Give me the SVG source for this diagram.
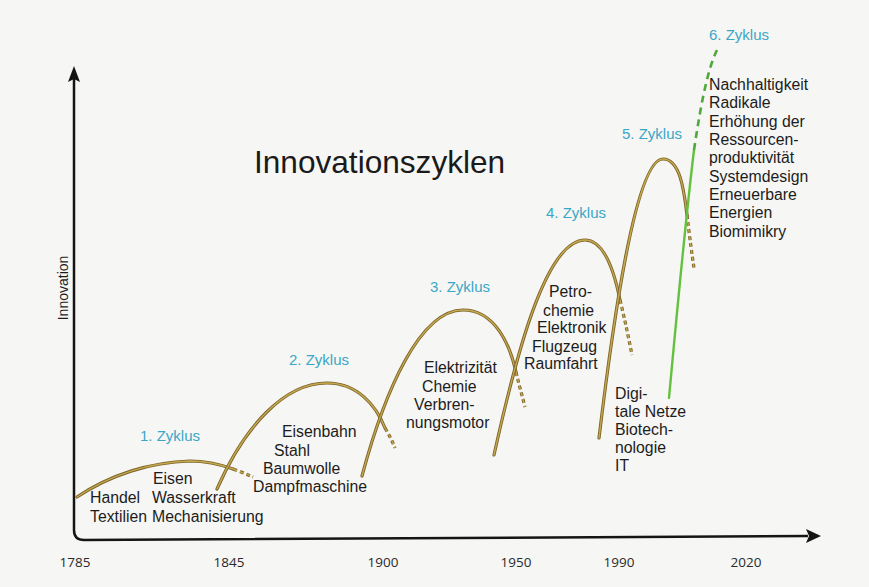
<svg xmlns="http://www.w3.org/2000/svg" width="869" height="587" viewBox="0 0 869 587">
<style>
  .t { font-family: "Liberation Sans", Arial, sans-serif; font-size: 15.8px; fill: #1c1c1c; }
  .lab { font-family: "Liberation Sans", Arial, sans-serif; font-size: 15px; fill: #3aa7c6; }
  .yr { font-family: "Open Sans", "Liberation Sans", sans-serif; font-size: 13.5px; fill: #2a2a2a; text-anchor: middle; }
  .title { font-family: "Liberation Sans", Arial, sans-serif; font-size: 31.6px; fill: #1a1a1a; }
  .axis { fill: none; stroke: #151515; stroke-width: 2.5; }
  .cu { fill: none; stroke: #7d6428; stroke-width: 3.2; stroke-linecap: round; }
  .ci { fill: none; stroke: #c4a851; stroke-width: 1.4; stroke-linecap: round; }
  .cud { fill: none; stroke: #7d6428; stroke-width: 3.2; stroke-dasharray: 4 3; }
  .cid { fill: none; stroke: #c4a851; stroke-width: 1.4; stroke-dasharray: 4 3; }
  .g { fill: none; stroke: #64c03f; stroke-width: 2.4; stroke-linecap: round; }
  .gd { fill: none; stroke: #4ea83a; stroke-width: 2.6; stroke-dasharray: 7 5; }
</style>
<rect x="0" y="0" width="869" height="587" fill="#f6f6f4"/>

<g id="title">
  <text class="title" x="254" y="173">Innovationszyklen</text>
</g>

<g id="axes">
  <path class="axis" d="M74,78 L74,530 Q74,540 84,540 L808,536"/>
  <polygon points="74,66 68,82 74,79 80,82" fill="#151515"/>
  <polygon points="821,536 806,529 809,536 806,543" fill="#151515"/>
  <text class="t" transform="translate(68,288) rotate(-90)" text-anchor="middle" style="font-size:14px">Innovation</text>
  <text class="yr" x="75" y="567">1785</text>
  <text class="yr" x="229" y="567">1845</text>
  <text class="yr" x="383" y="567">1900</text>
  <text class="yr" x="516" y="567">1950</text>
  <text class="yr" x="619" y="567">1990</text>
  <text class="yr" x="746" y="567">2020</text>
</g>

<g id="connectors">
  <!-- cycle 1 -->
  <path class="cu" d="M77,497 C110,475 150,462 190,461 C208,461 222,465 233,469"/>
  <path class="ci" d="M77,497 C110,475 150,462 190,461 C208,461 222,465 233,469"/>
  <path class="cud" d="M233,469 Q244,473 253,477"/>
  <path class="cid" d="M233,469 Q244,473 253,477"/>
  <!-- cycle 2 -->
  <path class="cu" d="M217,489 C245,425 285,383 327,383 C357,383 376,405 385,428"/>
  <path class="ci" d="M217,489 C245,425 285,383 327,383 C357,383 376,405 385,428"/>
  <path class="cud" d="M385,428 Q391,438 395,448"/>
  <path class="cid" d="M385,428 Q391,438 395,448"/>
  <!-- cycle 3 -->
  <path class="cu" d="M362,476 C385,390 420,310 463,310 C495,310 510,345 516,372"/>
  <path class="ci" d="M362,476 C385,390 420,310 463,310 C495,310 510,345 516,372"/>
  <path class="cud" d="M516,372 C519,385 522,395 525,407"/>
  <path class="cid" d="M516,372 C519,385 522,395 525,407"/>
  <!-- cycle 4 -->
  <path class="cu" d="M494,455 C515,360 545,240 585,240 C605,240 615,275 620,300"/>
  <path class="ci" d="M494,455 C515,360 545,240 585,240 C605,240 615,275 620,300"/>
  <path class="cud" d="M620,300 C625,320 629,340 632,355"/>
  <path class="cid" d="M620,300 C625,320 629,340 632,355"/>
  <!-- cycle 5 -->
  <path class="cu" d="M599,438 C612,330 635,159 663,159 C680,159 684,190 687,215"/>
  <path class="ci" d="M599,438 C612,330 635,159 663,159 C680,159 684,190 687,215"/>
  <path class="cud" d="M687,215 C690,240 692,255 694,268"/>
  <path class="cid" d="M687,215 C690,240 692,255 694,268"/>
  <!-- cycle 6 -->
  <path class="g" d="M669,398 C678,300 688,200 694,150"/>
  <path class="gd" d="M694,150 C700,110 707,70 717,50"/>
</g>

<g id="cycle1">
  <text class="lab" x="140" y="441">1. Zyklus</text>
  <text class="t" x="90" y="503">Handel</text>
  <text class="t" x="90" y="522">Textilien</text>
  <text class="t" x="153" y="484">Eisen</text>
  <text class="t" x="152" y="503">Wasserkraft</text>
  <text class="t" x="152" y="522">Mechanisierung</text>
</g>

<g id="cycle2">
  <text class="lab" x="289" y="365">2. Zyklus</text>
  <text class="t" x="282" y="437">Eisenbahn</text>
  <text class="t" x="274" y="456">Stahl</text>
  <text class="t" x="263" y="474">Baumwolle</text>
  <text class="t" x="253" y="492">Dampfmaschine</text>
</g>

<g id="cycle3">
  <text class="lab" x="430" y="292">3. Zyklus</text>
  <text class="t" x="424" y="373">Elektrizität</text>
  <text class="t" x="422" y="392">Chemie</text>
  <text class="t" x="414" y="410">Verbren-</text>
  <text class="t" x="406" y="428">nungsmotor</text>
</g>

<g id="cycle4">
  <text class="lab" x="546" y="218">4. Zyklus</text>
  <text class="t" x="549" y="297">Petro-</text>
  <text class="t" x="543" y="316">chemie</text>
  <text class="t" x="537" y="333">Elektronik</text>
  <text class="t" x="532" y="352">Flugzeug</text>
  <text class="t" x="524" y="369">Raumfahrt</text>
</g>

<g id="cycle5">
  <text class="lab" x="622" y="139">5. Zyklus</text>
  <text class="t" x="615" y="399">Digi-</text>
  <text class="t" x="615" y="417">tale Netze</text>
  <text class="t" x="615" y="435">Biotech-</text>
  <text class="t" x="615" y="453">nologie</text>
  <text class="t" x="615" y="471">IT</text>
</g>

<g id="cycle6">
  <text class="lab" x="709" y="40">6. Zyklus</text>
  <text class="t" x="709" y="90">Nachhaltigkeit</text>
  <text class="t" x="709" y="108">Radikale</text>
  <text class="t" x="709" y="127">Erhöhung der</text>
  <text class="t" x="709" y="145">Ressourcen-</text>
  <text class="t" x="709" y="163">produktivität</text>
  <text class="t" x="709" y="182">Systemdesign</text>
  <text class="t" x="709" y="200">Erneuerbare</text>
  <text class="t" x="709" y="218">Energien</text>
  <text class="t" x="709" y="237">Biomimikry</text>
</g>
</svg>
